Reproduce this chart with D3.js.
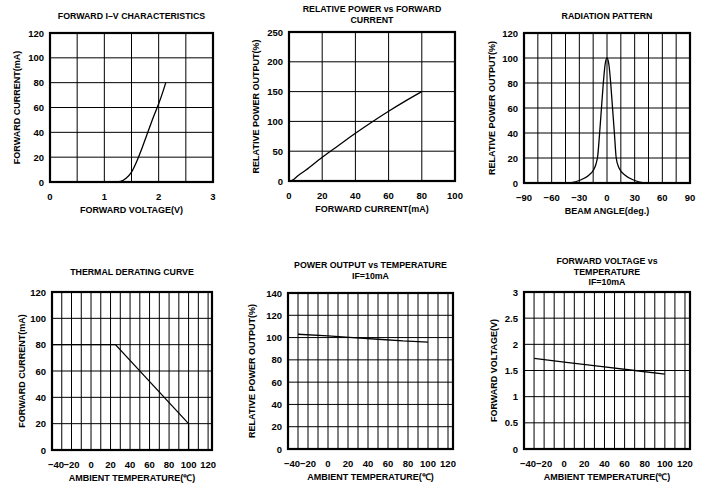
<!DOCTYPE html>
<html>
<meta charset="utf-8">
<title>LED characteristics</title>
<head>
<script src="https://cdnjs.cloudflare.com/ajax/libs/d3/7.8.5/d3.min.js"></script>
<style>
  body { margin: 0; background: #fff; }
  text { font-family: "Liberation Sans", Arial, sans-serif; fill: #000; font-weight: bold; }
</style>
</head>
<body>
<script>
// forward I-V
var ivVoltage = [1.2, 1.3, 1.4, 1.5, 1.6, 1.7, 1.8, 1.9, 2.0, 2.08, 2.13];
var ivCurrent = [0, 0.5, 3, 8, 17, 28, 40, 52, 63, 73, 80];
// relative power vs forward current
var rpCurrent = [1, 3, 5, 10, 20, 30, 40, 50, 60, 70, 80];
var rpPower = [0, 3, 8, 18, 40, 60, 80, 99, 117, 134, 150];
// radiation pattern
var radAngle = [-40, -30, -20, -15, -12, -10, -8, -6, -4, -2, 0, 2, 4, 6, 8, 10, 13, 20, 30, 40];
var radPower = [0, 2, 6, 10, 15, 22, 40, 60, 80, 95, 100, 95, 80, 60, 40, 20, 12, 6, 2, 0];
// thermal derating
var derTemp = [-40, 25, 100, 100];
var derCurrent = [80, 80, 20, 0];
// power output vs temperature
var potTemp = [-30, 0, 25, 50, 75, 100];
var potPower = [103, 101.5, 100, 98.5, 97, 96];
// forward voltage vs temperature
var fvTemp = [-30, 0, 40, 70, 100];
var fvVoltage = [1.73, 1.66, 1.57, 1.5, 1.43];

var tempTicks = [-40, -20, 0, 20, 40, 60, 80, 100, 120];
var tempGrid = d3.range(-30, 121, 10);

var svg = d3.select("body").append("svg")
    .attr("width", 707)
    .attr("height", 483);

function fmt(v) { return String(v).replace("-", "\u2212"); }

function panel(o) {
  var g = svg.append("g").attr("transform", "translate(" + o.left + "," + o.top + ")");
  var x = d3.scaleLinear().domain(o.xDomain).range([0, o.width]);
  var y = d3.scaleLinear().domain(o.yDomain).range([o.height, 0]);

  g.selectAll(".vg").data(o.xGrid).enter().append("line")
      .attr("x1", function(d) { return x(d); }).attr("x2", function(d) { return x(d); })
      .attr("y1", 0).attr("y2", o.height)
      .attr("stroke", "#000").attr("stroke-width", 1);
  g.selectAll(".hg").data(o.yTicks).enter().append("line")
      .attr("y1", function(d) { return y(d); }).attr("y2", function(d) { return y(d); })
      .attr("x1", 0).attr("x2", o.width)
      .attr("stroke", "#000").attr("stroke-width", 1);

  var line = d3.line()
      .x(function(d) { return x(d[0]); })
      .y(function(d) { return y(d[1]); })
      .curve(o.curve || d3.curveLinear);
  g.append("path")
      .datum(d3.zip(o.xs, o.ys))
      .attr("d", line)
      .attr("fill", "none")
      .attr("stroke", "#000")
      .attr("stroke-width", 1.3);

  g.append("rect")
      .attr("width", o.width).attr("height", o.height)
      .attr("fill", "none").attr("stroke", "#000").attr("stroke-width", 2.2);

  g.selectAll(".xt").data(o.xTicks).enter().append("text")
      .attr("x", function(d, i) { return x(d) + (i === 0 && o.shiftFirst ? o.shiftFirst : 0); })
      .attr("y", o.height + 18)
      .attr("text-anchor", "middle")
      .style("font-size", "9.5px")
      .text(fmt);
  g.selectAll(".yt").data(o.yTicks).enter().append("text")
      .attr("x", -6)
      .attr("y", function(d) { return y(d) + 3.5; })
      .attr("text-anchor", "end")
      .style("font-size", "9.5px")
      .text(fmt);

  g.append("text")
      .attr("x", o.width / 2)
      .attr("y", o.height + 31)
      .attr("text-anchor", "middle")
      .style("font-size", "9px")
      .text(o.xLabel);
  g.append("text")
      .attr("transform", "translate(" + o.yLabelX + "," + (o.height / 2) + ") rotate(-90)")
      .attr("text-anchor", "middle")
      .style("font-size", "9px")
      .text(o.yLabel);

  o.title.forEach(function(t, i) {
    g.append("text")
        .attr("x", o.width / 2)
        .attr("y", o.titleY + i * 10.5)
        .attr("text-anchor", "middle")
        .style("font-size", "8.8px")
        .text(t);
  });
}

panel({
  left: 50, top: 33, width: 163, height: 149,
  xDomain: [0, 3], yDomain: [0, 120],
  xGrid: d3.range(0.5, 3, 0.5), xTicks: [0, 1, 2, 3], yTicks: d3.range(0, 121, 20),
  xs: ivVoltage, ys: ivCurrent, curve: d3.curveMonotoneX,
  xLabel: "FORWARD VOLTAGE(V)", yLabel: "FORWARD CURRENT(mA)", yLabelX: -30,
  title: ["FORWARD I\u2013V CHARACTERISTICS"], titleY: -14
});

panel({
  left: 289, top: 32, width: 166, height: 149,
  xDomain: [0, 100], yDomain: [0, 250],
  xGrid: [20, 40, 60, 80], xTicks: [0, 20, 40, 60, 80, 100], yTicks: d3.range(0, 251, 50),
  xs: rpCurrent, ys: rpPower, curve: d3.curveMonotoneX,
  xLabel: "FORWARD CURRENT(mA)", yLabel: "RELATIVE POWER OUTPUT(%)", yLabelX: -30,
  title: ["RELATIVE POWER vs FORWARD", "CURRENT"], titleY: -20
});

panel({
  left: 524, top: 33, width: 166, height: 150,
  xDomain: [-90, 90], yDomain: [0, 120],
  xGrid: d3.range(-75, 90, 15), xTicks: d3.range(-90, 91, 30), yTicks: d3.range(0, 121, 20),
  xs: radAngle, ys: radPower, curve: d3.curveMonotoneX,
  xLabel: "BEAM ANGLE(deg.)", yLabel: "RELATIVE POWER OUTPUT(%)", yLabelX: -29,
  title: ["RADIATION PATTERN"], titleY: -14
});

panel({
  left: 52, top: 292, width: 160, height: 158,
  xDomain: [-40, 124], yDomain: [0, 120],
  xGrid: tempGrid, xTicks: tempTicks, yTicks: d3.range(0, 121, 20),
  xs: derTemp, ys: derCurrent, shiftFirst: 4,
  xLabel: "AMBIENT TEMPERATURE(\u2103)", yLabel: "FORWARD CURRENT(mA)", yLabelX: -27,
  title: ["THERMAL DERATING CURVE"], titleY: -17
});

panel({
  left: 288, top: 293, width: 165, height: 156,
  xDomain: [-40, 125], yDomain: [0, 140],
  xGrid: tempGrid, xTicks: tempTicks, yTicks: d3.range(0, 141, 20),
  xs: potTemp, ys: potPower, shiftFirst: 4,
  xLabel: "AMBIENT TEMPERATURE(\u2103)", yLabel: "RELATIVE POWER OUTPUT(%)", yLabelX: -33,
  title: ["POWER OUTPUT vs TEMPERATURE", "IF=10mA"], titleY: -25
});

panel({
  left: 524, top: 292, width: 166, height: 157,
  xDomain: [-40, 125], yDomain: [0, 3],
  xGrid: tempGrid, xTicks: tempTicks, yTicks: d3.range(0, 3.01, 0.5),
  xs: fvTemp, ys: fvVoltage, shiftFirst: 4,
  xLabel: "AMBIENT TEMPERATURE(\u2103)", yLabel: "FORWARD VOLTAGE(V)", yLabelX: -27,
  title: ["FORWARD VOLTAGE vs", "TEMPERATURE", "IF=10mA"], titleY: -28
});
</script>
</body>
</html>
